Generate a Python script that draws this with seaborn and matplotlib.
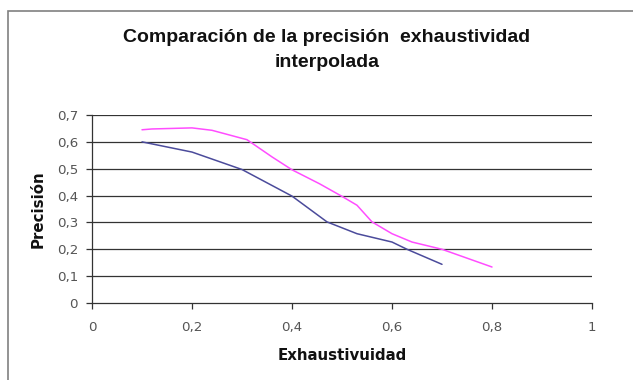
import matplotlib
matplotlib.use("Agg")
import matplotlib.pyplot as plt
import seaborn as sns
import pandas as pd
from matplotlib.patches import Rectangle

# Data
blue_x = [0.10, 0.20, 0.30, 0.40, 0.47, 0.53, 0.60, 0.63, 0.70]
blue_y = [0.60, 0.562, 0.497, 0.398, 0.302, 0.258, 0.227, 0.200, 0.144]
pink_x = [0.10, 0.12, 0.20, 0.24, 0.31, 0.36, 0.40, 0.455, 0.50, 0.53, 0.56, 0.60, 0.64, 0.70, 0.80]
pink_y = [0.645, 0.648, 0.652, 0.643, 0.608, 0.544, 0.496, 0.444, 0.397, 0.364, 0.302, 0.258, 0.227, 0.200, 0.134]
x_ticks = [0, 0.2, 0.4, 0.6, 0.8, 1]
x_tick_labels = ["0", "0,2", "0,4", "0,6", "0,8", "1"]
y_ticks = [0, 0.1, 0.2, 0.3, 0.4, 0.5, 0.6, 0.7]
y_tick_labels = ["0", "0,1", "0,2", "0,3", "0,4", "0,5", "0,6", "0,7"]
title = "Comparación de la precisión  exhaustividad\ninterpolada"
x_label = "Exhaustivuidad"
y_label = "Precisión"

sns.set_theme(style="white")
plt.rcParams["font.family"] = ["DejaVu Sans"]

df_blue = pd.DataFrame({"x": blue_x, "y": blue_y})
df_pink = pd.DataFrame({"x": pink_x, "y": pink_y})

fig = plt.figure(figsize=(6.33, 3.8), dpi=100)
ax = fig.add_axes([92 / 633, 1 - 303 / 380, 500 / 633, 188 / 380])

# outer chart frame
fig.patches.append(Rectangle((8 / 633, -0.1), 1.2, 1 - 11 / 380 + 0.1,
                             transform=fig.transFigure, fill=False,
                             edgecolor="#808080", linewidth=1.2))

for yv in y_ticks[1:]:
    ax.axhline(yv, color="#333333", linewidth=0.9, zorder=1)

sns.lineplot(data=df_blue, x="x", y="y", ax=ax, color="#4b4b9b",
             linewidth=1.1, sort=False, zorder=3)
sns.lineplot(data=df_pink, x="x", y="y", ax=ax, color="#ff4dff",
             linewidth=1.1, sort=False, zorder=3)

ax.set_xlim(0, 1)
ax.set_ylim(0, 0.7)
ax.set_xticks(x_ticks)
ax.set_xticklabels(x_tick_labels)
ax.set_yticks(y_ticks)
ax.set_yticklabels(y_tick_labels)
ax.tick_params(axis="both", direction="out", length=4, width=0.9,
               color="#333333", labelcolor="#555555", labelsize=9.6, pad=6)
ax.tick_params(axis="x", bottom=True, pad=9)
ax.tick_params(axis="y", left=True)

for s in ["top", "right"]:
    ax.spines[s].set_visible(False)
for s in ["left", "bottom"]:
    ax.spines[s].set_color("#333333")
    ax.spines[s].set_linewidth(0.9)

ax.set_xlabel(x_label, fontsize=10.8, fontweight="bold", color="#111111", labelpad=10)
ax.set_ylabel(y_label, fontsize=10.8, fontweight="bold", color="#111111", labelpad=8)
fig.text(327 / 633, 1 - 50 / 380, title, ha="center", va="center",
         fontsize=14, fontweight="bold", color="#111111", linespacing=1.6,
         family=["Liberation Sans", "DejaVu Sans"])

fig.savefig("out.png", dpi=100, facecolor="white")
